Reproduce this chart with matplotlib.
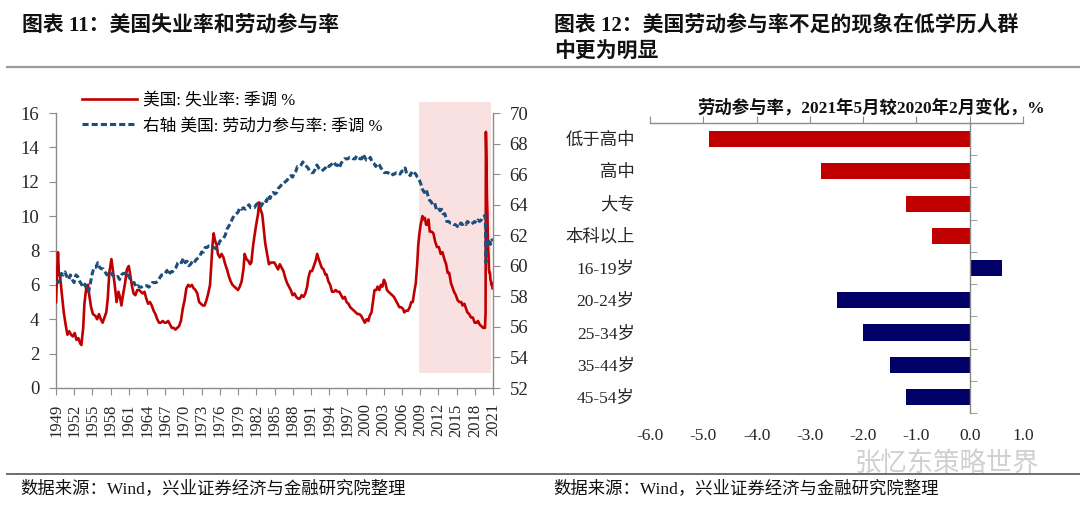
import numpy as np
import matplotlib
matplotlib.use("Agg")
import matplotlib.pyplot as plt
from matplotlib.lines import Line2D

plt.rcParams['font.family'] = ['Liberation Serif', 'Noto Sans CJK SC']
plt.rcParams['axes.unicode_minus'] = False

# ------------ DATA ------------
# US unemployment rate, SA, %  (left axis)
unemp_dates = [
    1949.42, 1949.75, 1949.9, 1950.1, 1950.4, 1950.7, 1951.0, 1951.3, 1951.6, 1951.9,
    1952.2, 1952.5, 1952.8, 1953.1, 1953.4, 1953.6, 1953.9, 1954.1, 1954.4, 1954.7,
    1954.9, 1955.2, 1955.5, 1955.9, 1956.2, 1956.5, 1956.8, 1957.1, 1957.4, 1957.7,
    1957.95, 1958.2, 1958.55, 1958.8, 1959.1, 1959.4, 1959.7, 1959.95, 1960.2, 1960.5,
    1960.8, 1961.1, 1961.4, 1961.6, 1961.9, 1962.2, 1962.5, 1962.8, 1963.1, 1963.4,
    1963.7, 1964.0, 1964.3, 1964.6, 1964.9, 1965.2, 1965.5, 1965.8, 1966.1, 1966.4,
    1966.7, 1967.0, 1967.3, 1967.6, 1967.9, 1968.2, 1968.5, 1968.8, 1969.1, 1969.4,
    1969.7, 1970.0, 1970.3, 1970.6, 1970.9, 1971.2, 1971.5, 1971.8, 1972.1, 1972.4,
    1972.7, 1973.0, 1973.3, 1973.6, 1973.9, 1974.2, 1974.5, 1974.8, 1975.0, 1975.2,
    1975.4, 1975.6, 1975.9, 1976.1, 1976.4, 1976.7, 1977.0, 1977.3, 1977.6, 1977.9,
    1978.2, 1978.5, 1978.8, 1979.1, 1979.4, 1979.7, 1980.0, 1980.3, 1980.5, 1980.8,
    1981.1, 1981.4, 1981.6, 1981.9, 1982.1, 1982.4, 1982.7, 1982.9, 1983.1, 1983.4,
    1983.6, 1983.9, 1984.2, 1984.5, 1984.8, 1985.1, 1985.4, 1985.7, 1986.0, 1986.3,
    1986.6, 1986.9, 1987.2, 1987.5, 1987.8, 1988.1, 1988.4, 1988.7, 1989.0, 1989.3,
    1989.6, 1989.9, 1990.2, 1990.5, 1990.8, 1991.0, 1991.3, 1991.6, 1991.9, 1992.2,
    1992.45, 1992.7, 1992.9, 1993.2, 1993.5, 1993.8, 1994.0, 1994.3, 1994.6, 1994.9,
    1995.2, 1995.5, 1995.8, 1996.1, 1996.4, 1996.7, 1997.0, 1997.3, 1997.6, 1997.9,
    1998.2, 1998.5, 1998.8, 1999.1, 1999.4, 1999.7, 2000.0, 2000.3, 2000.6, 2000.9,
    2001.1, 2001.4, 2001.6, 2001.9, 2002.2, 2002.4, 2002.7, 2002.95, 2003.2, 2003.45,
    2003.7, 2003.95, 2004.2, 2004.5, 2004.8, 2005.1, 2005.4, 2005.7, 2006.0, 2006.3,
    2006.6, 2006.8, 2007.1, 2007.4, 2007.7, 2007.95, 2008.2, 2008.45, 2008.7, 2008.95,
    2009.1, 2009.3, 2009.5, 2009.8, 2010.0, 2010.2, 2010.4, 2010.6, 2010.8, 2011.0,
    2011.3, 2011.6, 2011.9, 2012.2, 2012.5, 2012.8, 2013.1, 2013.4, 2013.7, 2013.95,
    2014.2, 2014.5, 2014.8, 2015.0, 2015.3, 2015.6, 2015.9, 2016.2, 2016.4, 2016.7,
    2016.9, 2017.2, 2017.5, 2017.8, 2018.1, 2018.4, 2018.7, 2018.95, 2019.2, 2019.5,
    2019.8, 2020.1, 2020.2, 2020.25, 2020.34, 2020.42, 2020.5, 2020.58, 2020.67, 2020.75,
    2020.84, 2020.92, 2021.0, 2021.09, 2021.17, 2021.25, 2021.34,
]
unemp_rate = [
    5.0, 7.9, 6.6, 6.5, 5.4, 4.4, 3.7, 3.1, 3.3, 3.1,
    3.0, 3.2, 2.8, 2.9, 2.6, 2.5, 3.5, 4.9, 5.8, 6.0,
    5.4, 4.7, 4.3, 4.2, 4.0, 4.3, 4.0, 3.8, 4.1, 4.4,
    5.2, 6.7, 7.5, 6.8, 6.0, 5.0, 5.6, 5.3, 4.8, 5.5,
    6.1, 6.9, 7.1, 6.7, 6.0, 5.5, 5.4, 5.7, 5.7, 5.6,
    5.5, 5.6, 5.2, 4.9, 5.0, 4.8, 4.5, 4.3, 4.0, 3.8,
    3.8, 3.9, 3.8, 3.8, 3.9, 3.7, 3.5, 3.5, 3.4, 3.5,
    3.6, 3.9, 4.6, 5.1, 5.8, 6.0, 5.9, 6.0, 5.8, 5.7,
    5.5, 5.0, 4.9, 4.8, 4.8, 5.1, 5.5, 6.0, 7.2, 8.3,
    9.0, 8.6, 8.3, 7.8, 7.6, 7.8, 7.6, 7.2, 6.9, 6.5,
    6.2, 6.0, 5.9, 5.8, 5.7, 5.9, 6.2, 6.9, 7.8, 7.5,
    7.4, 7.2, 7.3, 8.3, 8.8, 9.5, 10.1, 10.8, 10.4, 10.1,
    9.4, 8.4, 7.8, 7.2, 7.3, 7.3, 7.3, 7.1, 6.9, 7.2,
    7.0, 6.8, 6.4, 6.1, 5.9, 5.7, 5.4, 5.5, 5.3, 5.2,
    5.2, 5.4, 5.3, 5.5, 5.9, 6.4, 6.8, 6.8, 7.1, 7.4,
    7.8, 7.5, 7.3, 7.0, 6.9, 6.6, 6.6, 6.2, 6.0, 5.6,
    5.6, 5.7, 5.6, 5.6, 5.4, 5.2, 5.3, 5.0, 4.9, 4.7,
    4.6, 4.5, 4.4, 4.3, 4.3, 4.2, 4.0, 3.8, 4.0, 3.9,
    4.2, 4.4, 4.9, 5.7, 5.7, 5.9, 5.7, 6.0, 5.9, 6.3,
    6.1, 5.7, 5.6, 5.5, 5.4, 5.3, 5.1, 4.9, 4.7, 4.7,
    4.6, 4.4, 4.5, 4.5, 4.7, 5.0, 5.0, 5.6, 6.1, 7.3,
    8.3, 9.0, 9.5, 10.0, 9.8, 9.9, 9.5, 9.5, 9.8, 9.1,
    9.1, 9.0, 8.5, 8.2, 8.2, 7.8, 7.9, 7.5, 7.2, 6.7,
    6.7, 6.1, 5.8, 5.6, 5.4, 5.1, 5.0, 5.0, 4.8, 4.9,
    4.7, 4.4, 4.3, 4.1, 4.1, 3.8, 3.8, 3.9, 3.7, 3.6,
    3.5, 3.5, 4.4, 14.9, 13.3, 11.1, 10.2, 8.4, 7.8, 6.9,
    6.7, 6.7, 6.3, 6.2, 6.0, 6.1, 5.8,
]

# US labour force participation rate, SA, %  (right axis)
lfpr_dates = [
    1949.42, 1949.7, 1950.0, 1950.3, 1950.6, 1950.9, 1951.2, 1951.5, 1951.8, 1952.1,
    1952.4, 1952.7, 1953.0, 1953.3, 1953.6, 1953.9, 1954.2, 1954.5, 1954.8, 1955.1,
    1955.4, 1955.7, 1956.0, 1956.3, 1956.6, 1956.9, 1957.2, 1957.5, 1957.8, 1958.1,
    1958.4, 1958.7, 1959.0, 1959.3, 1959.6, 1959.9, 1960.2, 1960.5, 1960.8, 1961.1,
    1961.4, 1961.7, 1962.0, 1962.3, 1962.6, 1962.9, 1963.2, 1963.5, 1963.8, 1964.1,
    1964.4, 1964.7, 1965.0, 1965.3, 1965.6, 1965.9, 1966.2, 1966.5, 1966.8, 1967.1,
    1967.4, 1967.7, 1968.0, 1968.3, 1968.6, 1968.9, 1969.2, 1969.5, 1969.8, 1970.1,
    1970.4, 1970.7, 1971.0, 1971.3, 1971.6, 1971.9, 1972.2, 1972.5, 1972.8, 1973.1,
    1973.4, 1973.7, 1974.0, 1974.3, 1974.6, 1974.9, 1975.2, 1975.5, 1975.8, 1976.1,
    1976.4, 1976.7, 1977.0, 1977.3, 1977.6, 1977.9, 1978.2, 1978.5, 1978.8, 1979.1,
    1979.4, 1979.7, 1980.0, 1980.3, 1980.6, 1980.9, 1981.2, 1981.5, 1981.8, 1982.1,
    1982.4, 1982.7, 1982.95, 1983.2, 1983.5, 1983.8, 1984.1, 1984.4, 1984.7, 1984.95,
    1985.2, 1985.5, 1985.8, 1986.1, 1986.4, 1986.7, 1986.95, 1987.2, 1987.5, 1987.8,
    1988.1, 1988.4, 1988.7, 1988.95, 1989.2, 1989.5, 1989.8, 1990.1, 1990.4, 1990.7,
    1990.95, 1991.2, 1991.5, 1991.8, 1992.1, 1992.4, 1992.7, 1992.95, 1993.2, 1993.5,
    1993.8, 1994.1, 1994.4, 1994.7, 1994.95, 1995.2, 1995.5, 1995.8, 1996.1, 1996.4,
    1996.7, 1996.95, 1997.2, 1997.5, 1997.8, 1998.1, 1998.4, 1998.7, 1998.95, 1999.2,
    1999.5, 1999.8, 2000.05, 2000.3, 2000.6, 2000.9, 2001.2, 2001.5, 2001.8, 2002.1,
    2002.4, 2002.7, 2002.95, 2003.2, 2003.5, 2003.8, 2004.1, 2004.4, 2004.7, 2004.95,
    2005.2, 2005.5, 2005.8, 2006.1, 2006.4, 2006.7, 2006.95, 2007.2, 2007.5, 2007.8,
    2008.1, 2008.4, 2008.7, 2008.95, 2009.2, 2009.5, 2009.8, 2010.1, 2010.4, 2010.7,
    2010.95, 2011.2, 2011.5, 2011.8, 2012.1, 2012.4, 2012.7, 2012.95, 2013.2, 2013.5,
    2013.8, 2014.1, 2014.4, 2014.7, 2014.95, 2015.2, 2015.5, 2015.8, 2016.1, 2016.4,
    2016.7, 2016.95, 2017.2, 2017.5, 2017.8, 2018.1, 2018.4, 2018.7, 2018.95, 2019.2,
    2019.5, 2019.8, 2020.1, 2020.17, 2020.25, 2020.34, 2020.42, 2020.5, 2020.58, 2020.67,
    2020.75, 2020.84, 2020.92, 2021.0, 2021.09, 2021.17, 2021.25, 2021.34,
]
lfpr_rate = [
    59.0, 58.9, 59.0, 59.5, 59.4, 59.6, 59.3, 59.1, 59.4, 59.1,
    58.9, 59.4, 59.3, 59.0, 58.8, 58.6, 58.8, 58.4, 58.3, 58.9,
    59.5, 59.9, 59.9, 60.2, 59.9, 59.8, 59.8, 59.6, 59.4, 59.5,
    59.6, 59.4, 59.3, 59.2, 59.3, 59.1, 59.4, 59.5, 59.5, 59.6,
    59.3, 59.1, 58.9, 58.9, 58.6, 58.7, 58.6, 58.6, 58.7, 58.7,
    58.7, 58.6, 58.7, 58.9, 58.9, 58.9, 59.0, 59.2, 59.4, 59.4,
    59.5, 59.7, 59.4, 59.6, 59.6, 59.8, 59.9, 60.2, 60.3, 60.2,
    60.5, 60.2, 60.3, 60.0, 60.1, 60.3, 60.2, 60.4, 60.5, 60.6,
    60.9, 60.9, 61.2, 61.2, 61.3, 61.3, 61.2, 61.2, 61.1, 61.3,
    61.6, 61.7, 61.8, 62.0, 62.4, 62.6, 62.8, 63.1, 63.3, 63.4,
    63.5, 63.8, 63.7, 63.8, 63.7, 63.8, 64.0, 63.8, 63.8, 63.8,
    64.0, 64.1, 64.1, 63.9, 64.1, 64.3, 64.2, 64.6, 64.4, 64.7,
    64.8, 64.7, 64.8, 65.1, 65.2, 65.4, 65.4, 65.5, 65.6, 65.8,
    65.9, 65.8, 66.1, 66.2, 66.5, 66.5, 66.6, 66.8, 66.6, 66.5,
    66.4, 66.2, 66.1, 66.1, 66.3, 66.6, 66.4, 66.3, 66.2, 66.3,
    66.4, 66.6, 66.5, 66.6, 66.7, 66.8, 66.6, 66.6, 66.4, 66.7,
    66.9, 67.0, 67.0, 67.0, 67.1, 67.1, 67.0, 67.0, 67.2, 67.1,
    67.0, 67.0, 67.3, 67.1, 66.9, 66.9, 67.1, 66.8, 66.7, 66.5,
    66.7, 66.6, 66.4, 66.3, 66.1, 66.1, 66.1, 66.0, 65.9, 66.0,
    66.0, 66.1, 66.1, 66.0, 66.2, 66.2, 66.4, 66.0, 66.0, 65.9,
    66.2, 66.1, 66.0, 65.8, 65.7, 65.4, 65.0, 64.8, 65.0, 64.6,
    64.3, 64.2, 64.0, 64.1, 63.7, 63.8, 63.6, 63.7, 63.4, 63.4,
    62.9, 62.9, 62.8, 62.8, 62.7, 62.7, 62.6, 62.5, 62.8, 62.7,
    62.8, 62.7, 62.9, 62.8, 62.7, 62.8, 62.9, 62.8, 63.0, 62.9,
    63.0, 63.2, 63.3, 62.7, 60.2, 60.8, 61.5, 61.4, 61.7, 61.4,
    61.6, 61.5, 61.5, 61.4, 61.5, 61.5, 61.7, 61.6,
]

tick_years = list(range(1949, 2022, 3))
shade_start, shade_end = 2009.27, 2021.1

# Labour participation change, May 2021 vs Feb 2020, pct pts
groups = ['低于高中', '高中', '大专', '本科以上',
          '16-19岁', '20-24岁', '25-34岁', '35-44岁', '45-54岁']
changes = [-4.9, -2.8, -1.2, -0.7, 0.6, -2.5, -2.0, -1.5, -1.2]
group_kind = ['edu', 'edu', 'edu', 'edu', 'age', 'age', 'age', 'age', 'age']

# ------------ STYLE ------------
RED = '#C00000'
BLUE = '#1F4E79'
NAVY = '#000066'
PINK = '#F9E1E2'
GREY = '#8C8C8C'
TXT = '#262626'
CJK_BOLD = dict(family=['Liberation Serif', 'Noto Sans CJK SC'], fontweight='bold')

W, H = 1080, 512
fig = plt.figure(figsize=(W / 100, H / 100), dpi=100)

def fx(px):
    return px / W

def fy(py):
    return 1 - py / H

# titles and frame lines
fig.text(fx(22), fy(25), '图表 11：美国失业率和劳动参与率', fontsize=15,
         va='center', ha='left', color='#111111', **CJK_BOLD)
fig.text(fx(554), fy(25), '图表 12：美国劳动参与率不足的现象在低学历人群', fontsize=15,
         va='center', ha='left', color='#111111', **CJK_BOLD)
fig.text(fx(554), fy(53), '中更为明显', fontsize=15,
         va='center', ha='left', color='#111111', **CJK_BOLD)
fig.add_artist(Line2D([fx(7), 1], [fy(67), fy(67)], color='#9A9A9A', lw=1.6))
fig.add_artist(Line2D([fx(7), 1], [fy(474), fy(474)], color='#6E6E6E', lw=1.4))
src = '数据来源：Wind，兴业证券经济与金融研究院整理'
fig.text(fx(20), fy(489), src, fontsize=12.5, va='center', ha='left', color='#111111')
fig.text(fx(553), fy(489), src, fontsize=12.5, va='center', ha='left', color='#111111')
fig.text(fx(855), fy(463), '张忆东策略世界', fontsize=19, va='center', ha='left',
         color='#D0D0D0', family='Noto Sans CJK SC')

# ------------ LEFT: line chart ------------
ax = fig.add_axes([fx(56), fy(388), (493 - 56) / W, (388 - 113) / H])
ax2 = ax.twinx()

ax.axvspan(shade_start, shade_end, ymin=1 / 18, ymax=1.04, color=PINK, lw=0,
           clip_on=False, zorder=0)
l1, = ax.plot(unemp_dates, unemp_rate, color=RED, lw=1.9, zorder=3)
l2, = ax2.plot(lfpr_dates, lfpr_rate, color=BLUE, lw=2.2, ls=(0, (2, 1)), zorder=3)

ax.set_xlim(1949.42, 2021.42)
ax.set_ylim(0, 16)
ax2.set_ylim(52, 70)
ax.set_yticks(np.arange(0, 17, 2))
ax2.set_yticks(np.arange(52, 71, 2))
ax.set_xticks([y + 0.42 for y in tick_years])
ax.set_xticklabels([str(y) for y in tick_years], rotation=90, fontsize=12)

for a in (ax, ax2):
    a.spines['top'].set_visible(False)
    for s in a.spines.values():
        s.set_color(GREY)
        s.set_linewidth(1.0)
ax.spines['right'].set_visible(False)
ax2.spines['left'].set_visible(False)
ax2.spines['bottom'].set_visible(False)
ax.tick_params(axis='both', direction='out', length=5, color=GREY, labelcolor=TXT,
               labelsize=13.5)
ax.tick_params(axis='x', labelsize=12, pad=6)
ax.tick_params(axis='y', pad=7)
ax2.tick_params(axis='y', direction='out', length=5, color=GREY, labelcolor=TXT,
                labelsize=13.5, pad=7)

ax2.legend([l1, l2], ['美国: 失业率: 季调 %', '右轴 美国: 劳动力参与率: 季调 %'],
           loc='upper left', bbox_to_anchor=(fx(82), fy(93)), bbox_transform=fig.transFigure,
           frameon=False, fontsize=12, handlelength=3.3, handletextpad=0.35,
           labelspacing=0.55, borderpad=0, borderaxespad=0,
           prop={'family': ['Liberation Serif', 'Noto Sans CJK SC'], 'size': 12})

# ------------ RIGHT: bar chart ------------
bx = fig.add_axes([fx(650), fy(413), (1023 - 650) / W, (413 - 123) / H])
bar_colors = [RED if k == 'edu' else NAVY for k in group_kind]
bx.barh(np.arange(len(groups)), changes, height=0.5, color=bar_colors, zorder=2)
bx.set_xlim(-6, 1)
bx.set_ylim(len(groups) - 0.5, -0.5)
bx.set_xticks(np.arange(-6, 2, 1))
bx.set_xticklabels([f'{v:.1f}' for v in np.arange(-6, 2, 1)])

bx.spines['bottom'].set_visible(False)
bx.spines['right'].set_visible(False)
bx.spines['left'].set_position(('data', 0))
for s in ('top', 'left'):
    bx.spines[s].set_color(GREY)
    bx.spines[s].set_linewidth(1.0)
bx.tick_params(axis='x', top=True, bottom=False, labeltop=False, labelbottom=True,
               direction='out', length=5, color=GREY, labelcolor=TXT, labelsize=12.5, pad=6)
bx.set_yticks(np.arange(len(groups)))
bx.set_yticks(np.arange(len(groups)) + 0.5, minor=True)
bx.tick_params(axis='y', which='major', length=0, labelleft=False)
bx.tick_params(axis='y', which='minor', direction='in', length=5, color=GREY)

sec = bx.secondary_yaxis('left')
sec.set_yticks(np.arange(len(groups)))
sec.set_yticklabels(groups)
sec.tick_params(length=0, pad=11, labelsize=12.5, labelcolor=TXT)
sec.spines['left'].set_visible(False)

fig.text(fx(871), fy(108), '劳动参与率，2021年5月较2020年2月变化，%', fontsize=12.5,
         ha='center', va='center', color='#111111', **CJK_BOLD)

fig.savefig('out.png', dpi=100)
